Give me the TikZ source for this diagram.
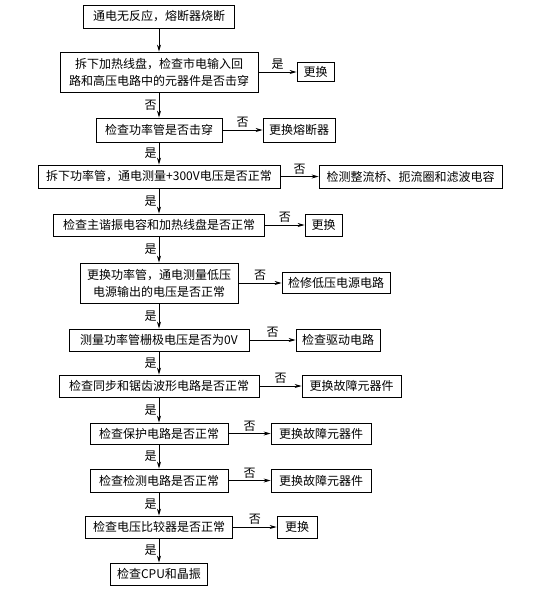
\documentclass[tikz,border=0pt]{standalone}
\usepackage{fontspec}
\setmainfont{Noto Sans CJK SC}
\usetikzlibrary{arrows.meta}

\begin{document}
\begin{tikzpicture}[x=1pt, y=-1pt,
	box/.style={rectangle, draw=black, line width=0.8pt, inner sep=2pt, align=center, font=\fontsize{12}{17}\selectfont},
	lbl/.style={inner sep=2pt, font=\fontsize{12}{14}\selectfont},
	flow/.style={draw=black, line width=0.8pt, -{Stealth[length=7pt, width=4pt]}}]
				\useasboundingbox (0,0) rectangle (547,592);
				
				\node[box, minimum width=151pt, minimum height=23pt] (m1) at (159,16.5){通电无反应，熔断器烧断};
				\node[box, minimum width=198pt, minimum height=40pt] (m2) at (159,72){拆下加热线盘，检查市电输入回\\路和高压电路中的元器件是否击穿};
				\node[box, minimum width=126pt, minimum height=24pt] (m3) at (159,130){检查功率管是否击穿};
				\node[box, minimum width=242pt, minimum height=23pt] (m4) at (159,176.5){拆下功率管，通电测量+300V电压是否正常};
				\node[box, minimum width=211pt, minimum height=22pt] (m5) at (159,225){检查主谐振电容和加热线盘是否正常};
				\node[box, minimum width=158pt, minimum height=40pt] (m6) at (159,283){更换功率管，通电测量低压\\电源输出的电压是否正常};
				\node[box, minimum width=180pt, minimum height=22pt] (m7) at (159,340){测量功率管栅极电压是否为0V};
				\node[box, minimum width=200pt, minimum height=22pt] (m8) at (159,386){检查同步和锯齿波形电路是否正常};
				\node[box, minimum width=138pt, minimum height=21pt] (m9) at (159,433.5){检查保护电路是否正常};
				\node[box, minimum width=138pt, minimum height=23pt] (m10) at (159,480.5){检查检测电路是否正常};
				\node[box, minimum width=147pt, minimum height=22pt] (m11) at (159,527){检查电压比较器是否正常};
				\node[box, minimum width=97pt, minimum height=22pt] (m12) at (159,574){检查CPU和晶振};
				
				\node[box, minimum width=37pt, minimum height=19pt] (r2) at (315.5,72){更换};
				\node[box, minimum width=72pt, minimum height=24pt] (r3) at (299,130){更换熔断器};
				\node[box, minimum width=183pt, minimum height=23pt] (r4) at (410.5,176.5){检测整流桥、扼流圈和滤波电容};
				\node[box, minimum width=37pt, minimum height=22pt] (r5) at (323.5,225){更换};
				\node[box, minimum width=108pt, minimum height=21pt] (r6) at (336,283){检修低压电源电路};
				\node[box, minimum width=84pt, minimum height=22pt] (r7) at (338,340){检查驱动电路};
				\node[box, minimum width=99pt, minimum height=22pt] (r8) at (351.5,386){更换故障元器件};
				\node[box, minimum width=100pt, minimum height=21pt] (r9) at (321,433.5){更换故障元器件};
				\node[box, minimum width=100pt, minimum height=23pt] (r10) at (321,480.5){更换故障元器件};
				\node[box, minimum width=40pt, minimum height=22pt] (r11) at (297,527){更换};
				
				\path[flow] (m1) edge (m2);
				\path[flow] (m2) edge node[lbl, left]{否} (m3);
				\path[flow] (m3) edge node[lbl, left]{是} (m4);
				\path[flow] (m4) edge node[lbl, left]{是} (m5);
				\path[flow] (m5) edge node[lbl, left]{是} (m6);
				\path[flow] (m6) edge node[lbl, left]{是} (m7);
				\path[flow] (m7) edge node[lbl, left]{是} (m8);
				\path[flow] (m8) edge node[lbl, left]{是} (m9);
				\path[flow] (m9) edge node[lbl, left]{是} (m10);
				\path[flow] (m10) edge node[lbl, left]{是} (m11);
				\path[flow] (m11) edge node[lbl, left]{是} (m12);
				
				\path[flow] (m2) edge node[lbl, above]{是} (r2);
				\path[flow] (m3) edge node[lbl, above]{否} (r3);
				\path[flow] (m4) edge node[lbl, above]{否} (r4);
				\path[flow] (m5) edge node[lbl, above]{否} (r5);
				\path[flow] (m6) edge node[lbl, above]{否} (r6);
				\path[flow] (m7) edge node[lbl, above]{否} (r7);
				\path[flow] (m8) edge node[lbl, above]{否} (r8);
				\path[flow] (m9) edge node[lbl, above]{否} (r9);
				\path[flow] (m10) edge node[lbl, above]{否} (r10);
				\path[flow] (m11) edge node[lbl, above]{否} (r11);
\end{tikzpicture}
\end{document}
